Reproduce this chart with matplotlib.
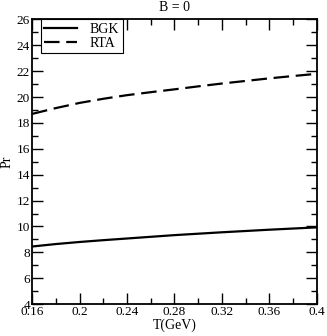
import numpy as np
import matplotlib
matplotlib.use("Agg")
import matplotlib.pyplot as plt
from matplotlib.ticker import MultipleLocator

plt.rcParams['font.family'] = ['Liberation Serif', 'DejaVu Serif']
plt.rcParams['mathtext.fontset'] = 'stix'

# data
T = [0.16, 0.18, 0.20, 0.22, 0.24, 0.26, 0.28, 0.30, 0.32, 0.34, 0.36, 0.38, 0.40]
pr_bgk = [8.45, 8.64, 8.80, 8.94, 9.07, 9.20, 9.33, 9.44, 9.55, 9.65, 9.75, 9.84, 9.93]
pr_rta = [18.70, 19.15, 19.55, 19.87, 20.15, 20.38, 20.60, 20.83, 21.05, 21.25, 21.45, 21.63, 21.80]

fig = plt.figure(figsize=(3.27, 3.36), dpi=100)
ax = fig.add_axes([0.098, 0.095, 0.871, 0.847])

ax.plot(T, pr_bgk, color='k', lw=1.6, label='BGK')
ax.plot(T, pr_rta, color='k', lw=1.6, dashes=(7, 3), label='RTA')

ax.set_xlim(0.16, 0.4)
ax.set_ylim(4, 26)
ax.xaxis.set_minor_locator(MultipleLocator(0.02))
ax.yaxis.set_major_locator(MultipleLocator(2))
ax.yaxis.set_minor_locator(MultipleLocator(1))
ax.set_xticks([0.16, 0.2, 0.24, 0.28, 0.32, 0.36, 0.4])
ax.set_xticklabels(['0.16', '0.2', '0.24', '0.28', '0.32', '0.36', '0.4'])

ax.tick_params(which='both', direction='in', top=True, right=True, labelsize=9.5, pad=1.5)
ax.tick_params(which='major', length=8, width=1)
ax.tick_params(which='minor', length=4, width=1)
for s in ax.spines.values():
    s.set_linewidth(1.3)

ax.set_xlabel('T(GeV)', fontsize=10, labelpad=0)
ax.set_ylabel('Pr', fontsize=10, labelpad=2)
ax.set_title('B = 0', fontsize=10, pad=6)

leg = ax.legend(loc='upper left', bbox_to_anchor=(0.03, 1.0), fontsize=10,
                handlelength=2.4, fancybox=False, framealpha=1, borderpad=0.25,
                labelspacing=0.05, handletextpad=0.9, borderaxespad=0)
leg.get_frame().set_edgecolor('k')
leg.get_frame().set_linewidth(0.8)

fig.savefig('out.png', dpi=100)
